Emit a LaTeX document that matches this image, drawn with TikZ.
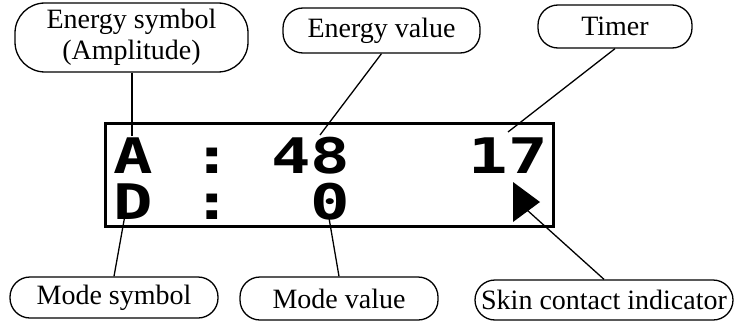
\documentclass[tikz,border=0pt]{standalone}
\usepackage{fontspec}
\setmainfont{Liberation Serif}
\newfontfamily\lcdfont[FakeStretch=1.34]{DejaVu Sans Mono Bold}
\usepackage{tikz}
\tikzset{
  bubble/.style={draw, line width=1.3pt, rounded corners=20pt, inner sep=0pt,
    font=\fontsize{28}{31}\selectfont, align=center},
  lcdrow/.style={inner sep=0pt, anchor=base west, font=\fontsize{49}{49}\lcdfont},
  pointer/.style={line width=1.3pt}
}

\begin{document}
\begin{tikzpicture}[x=1pt, y=-1pt]
			%%%%% START %%%%%
			\useasboundingbox (0, 0) rectangle (735, 321);

			\draw[line width=3pt] (105, 123) rectangle (553, 226);
			\node[lcdrow] (row1) at (113, 173) {A\ :\ 48\ \ \ 17};
			\node[lcdrow] (row2) at (113, 219) {D\ :\ \ 0};
			\fill[black] (513, 182) -- (540, 202) -- (513, 222) -- cycle;

			\coordinate (apt) at (132, 136);
			\coordinate (fortyeight) at (320, 135);
			\coordinate (seventeen) at (508, 132);
			\coordinate (dpt) at (125, 215);
			\coordinate (zero) at (329, 218);
			\coordinate (triangle) at (527, 210);

			\node[bubble, rounded corners=30pt, minimum width=233, minimum height=69] (esym) at (131.5, 37.5) {Energy symbol\\(Amplitude)};
			\node[bubble, minimum width=197, minimum height=45] (eval) at (381.5, 30.5) {Energy value};
			\node[bubble, minimum width=154, minimum height=43] (timer) at (615, 26.5) {Timer};

			\node[bubble, minimum width=208, minimum height=41] (msym) at (114, 297.5) {Mode symbol};
			\node[bubble, minimum width=198, minimum height=43] (mval) at (339, 298.5) {Mode value};
			\node[bubble, minimum width=258, minimum height=40] (skin) at (604, 300) {Skin contact indicator};

			\draw[pointer] (esym.south -| apt) -- (apt);
			\draw[pointer] (eval.south) -- (fortyeight);
			\draw[pointer] (timer.south) -- (seventeen);
			\draw[pointer] (msym.north) -- (dpt);
			\draw[pointer] (mval.north) -- (zero);
			\draw[pointer] (skin.north) -- (triangle);
			%%%%% END %%%%%
\end{tikzpicture}
\end{document}
